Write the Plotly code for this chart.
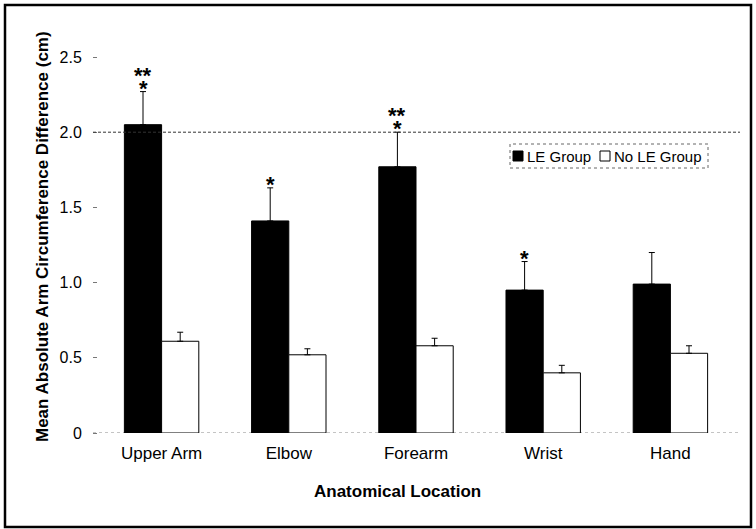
import plotly.graph_objects as go

categories = ["Upper Arm", "Elbow", "Forearm", "Wrist", "Hand"]
le_values = [2.05, 1.41, 1.77, 0.95, 0.99]
le_errors = [0.22, 0.22, 0.23, 0.19, 0.21]
no_le_values = [0.61, 0.52, 0.58, 0.40, 0.53]
no_le_errors = [0.06, 0.04, 0.05, 0.05, 0.05]
le_stars_lower = ["*", "*", "*", "*", ""]
le_stars_upper = ["**", "", "**", "", ""]
series_names = ["LE Group", "No LE Group"]
y_ticks = [0, 0.5, 1.0, 1.5, 2.0, 2.5]
y_tick_labels = ["0", "0.5", "1.0", "1.5", "2.0", "2.5"]
reference_line = 2.0

W, H = 756, 529
L, R, T, B = 98, 22, 57, 96
FONT = "Liberation Sans, Arial, sans-serif"

fig = go.Figure()
fig.add_trace(go.Bar(
    x=categories, y=le_values, name=series_names[0],
    marker=dict(color="black", line=dict(color="black", width=1)),
    error_y=dict(type="data", array=le_errors, arrayminus=[0]*len(le_errors),
                 symmetric=False, color="black", thickness=1, width=3),
))
fig.add_trace(go.Bar(
    x=categories, y=no_le_values, name=series_names[1],
    marker=dict(color="white", line=dict(color="black", width=1)),
    error_y=dict(type="data", array=no_le_errors, arrayminus=[0]*len(no_le_errors),
                 symmetric=False, color="black", thickness=1, width=3),
))

bargap = 0.415
offset = (1 - bargap) / 4
annotations = []
for i, c in enumerate(categories):
    top = le_values[i] + le_errors[i]
    if le_stars_lower[i]:
        annotations.append(dict(x=i - offset, y=top, xref="x", yref="y",
                                text="<b>" + le_stars_lower[i] + "</b>",
                                showarrow=False, yanchor="bottom", yshift=-11,
                                font=dict(family=FONT, size=22, color="black")))
    if le_stars_upper[i]:
        annotations.append(dict(x=i - offset, y=top, xref="x", yref="y",
                                text="<b>" + le_stars_upper[i] + "</b>",
                                showarrow=False, yanchor="bottom", yshift=2,
                                font=dict(family=FONT, size=22, color="black")))

plot_w = W - L - R
plot_h = H - T - B
def px(xp):
    return (xp - L) / plot_w
def py(yp):
    return (H - B - yp) / plot_h

annotations.append(dict(x=px(397), y=py(491), xref="paper", yref="paper",
                        xanchor="center", yanchor="middle",
                        text="<b>Anatomical Location</b>", showarrow=False,
                        font=dict(family=FONT, size=17, color="black")))
annotations.append(dict(x=px(42), y=py(237), xref="paper", yref="paper",
                        xanchor="center", yanchor="middle",
                        text="<b>Mean Absolute Arm Circumference Difference (cm)</b>",
                        showarrow=False, textangle=-90,
                        font=dict(family=FONT, size=17, color="black")))
# legend texts
annotations.append(dict(x=px(525), y=py(156), xref="paper", yref="paper",
                        xanchor="left", yanchor="middle",
                        text=series_names[0], showarrow=False,
                        font=dict(family=FONT, size=15, color="black")))
annotations.append(dict(x=px(612), y=py(156), xref="paper", yref="paper",
                        xanchor="left", yanchor="middle",
                        text=series_names[1], showarrow=False,
                        font=dict(family=FONT, size=15, color="black")))

shapes = [
    dict(type="line", xref="paper", yref="y", x0=px(93), x1=px(740), y0=reference_line, y1=reference_line,
         line=dict(color="#333333", width=1, dash="3px,2px")),
    dict(type="line", xref="paper", yref="y", x0=px(93), x1=px(740), y0=0, y1=0,
         line=dict(color="#888888", width=1, dash="dot"), layer="below"),
    dict(type="rect", xref="paper", yref="paper", x0=px(510), x1=px(708), y0=py(168), y1=py(144),
         line=dict(color="#666666", width=1, dash="dot")),
    dict(type="rect", xref="paper", yref="paper", x0=px(513), x1=px(523), y0=py(161), y1=py(151),
         fillcolor="black", line=dict(color="black", width=1)),
    dict(type="rect", xref="paper", yref="paper", x0=px(600), x1=px(610), y0=py(161), y1=py(151),
         fillcolor="white", line=dict(color="black", width=1)),
    dict(type="rect", xref="paper", yref="paper", x0=px(5), x1=px(751), y0=py(527), y1=py(5),
         line=dict(color="black", width=2.5)),
]

fig.update_layout(
    width=W, height=H,
    margin=dict(l=L, r=R, t=T, b=B),
    paper_bgcolor="white", plot_bgcolor="white",
    barmode="group", bargap=bargap, bargroupgap=0,
    showlegend=False,
    xaxis=dict(showgrid=False, showline=False, ticks="", ticklabelstandoff=8,
               tickfont=dict(family=FONT, size=17, color="black"), range=[-0.5, 4.5]),
    yaxis=dict(range=[0, 2.5], tickvals=y_ticks, ticktext=y_tick_labels,
               showgrid=False, zeroline=False, showline=False,
               ticks="outside", ticklen=4, tickcolor="#777777", ticklabelstandoff=8,
               tickfont=dict(family=FONT, size=16, color="black")),
    annotations=annotations,
    shapes=shapes,
)

fig.write_html("out.html", config={"displayModeBar": False},
               post_script="document.body.style.margin='0';")
